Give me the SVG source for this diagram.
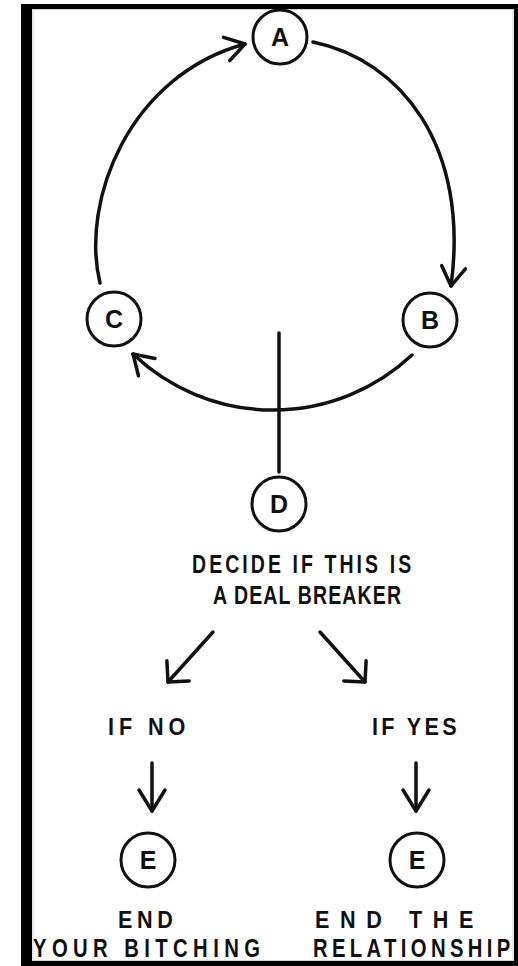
<svg xmlns="http://www.w3.org/2000/svg" width="518" height="966" viewBox="0 0 518 966">
<style>
.node circle{fill:#fff;stroke:#111;stroke-width:3}
.node text{font-family:"Liberation Sans",Arial,sans-serif;font-weight:bold;font-size:25px;fill:#111;text-anchor:middle}
.lbl{font-family:"Liberation Sans",Arial,sans-serif;font-weight:bold;fill:#111}
.conn path,.conn line{fill:none;stroke:#111;stroke-width:3.5;stroke-linecap:round}
</style>
<defs>
<marker id="ah" markerUnits="userSpaceOnUse" markerWidth="40" markerHeight="40" refX="0" refY="0" viewBox="-25 -20 30 40" orient="auto" overflow="visible">
<path d="M-19,-12 L0,0 L-19,12" fill="none" stroke="#111" stroke-width="3.5" stroke-linecap="round" stroke-linejoin="round"/>
</marker>
<marker id="ah2" markerUnits="userSpaceOnUse" markerWidth="40" markerHeight="40" refX="0" refY="0" viewBox="-25 -20 30 40" orient="auto" overflow="visible">
<path d="M-15,-15 L0,0 L-15,15" fill="none" stroke="#111" stroke-width="3.5" stroke-linecap="round" stroke-linejoin="round"/>
</marker>
<marker id="ah3" markerUnits="userSpaceOnUse" markerWidth="40" markerHeight="40" refX="0" refY="0" viewBox="-25 -20 30 40" orient="auto" overflow="visible">
<path d="M-21,-13 L0,0 L-21,13" fill="none" stroke="#111" stroke-width="3.5" stroke-linecap="round" stroke-linejoin="round"/>
</marker>
</defs>
<rect width="518" height="966" fill="#fff"/>
<rect x="33" y="9.5" width="480" height="951" fill="none" stroke="#cfcfcf" stroke-width="1"/>
<rect x="21" y="4" width="11" height="962" fill="#000"/>
<rect x="21" y="4" width="497" height="5" fill="#000"/>
<rect x="514" y="4" width="4" height="962" fill="#000"/>
<rect x="21" y="961" width="497" height="5" fill="#000"/>
<g class="conn">
<path d="M313,42 C400,60 470,145 451,286" marker-end="url(#ah)"/>
<path d="M412,355 A203,203 0 0 1 133,354" marker-end="url(#ah)"/>
<path d="M100,283 C80,200 130,75 245,44" marker-end="url(#ah)"/>
<line x1="279" y1="333" x2="279" y2="472"/>
<line x1="213" y1="632" x2="168" y2="682" marker-end="url(#ah2)"/>
<line x1="320" y1="632" x2="365" y2="682" marker-end="url(#ah2)"/>
<line x1="152" y1="763" x2="152" y2="811" marker-end="url(#ah3)"/>
<line x1="416" y1="763" x2="416" y2="811" marker-end="url(#ah3)"/>
</g>
<g id="nodeA" class="node"><circle cx="280" cy="37" r="27"/><text x="280" y="46">A</text></g>
<g id="nodeB" class="node"><circle cx="430" cy="320" r="27"/><text x="430" y="329">B</text></g>
<g id="nodeC" class="node"><circle cx="114" cy="319" r="27"/><text x="114" y="328">C</text></g>
<g id="nodeD" class="node"><circle cx="279" cy="504" r="27"/><text x="279" y="513">D</text></g>
<g id="nodeE1" class="node"><circle cx="148" cy="860" r="27"/><text x="148" y="869">E</text></g>
<g id="nodeE2" class="node"><circle cx="417" cy="860" r="27"/><text x="417" y="869">E</text></g>
<g id="labels">
<text class="lbl" transform="translate(192,573) scale(0.78,1)" font-size="25" textLength="281" lengthAdjust="spacing">DECIDE IF THIS IS</text>
<text class="lbl" transform="translate(213,604) scale(0.78,1)" font-size="25" textLength="241" lengthAdjust="spacing">A DEAL BREAKER</text>
<text class="lbl" transform="translate(108,735) scale(0.9,1)" font-size="24" textLength="86" lengthAdjust="spacing">IF NO</text>
<text class="lbl" transform="translate(372,735) scale(0.9,1)" font-size="24" textLength="94" lengthAdjust="spacing">IF YES</text>
<text class="lbl" transform="translate(118,928) scale(0.9,1)" font-size="24" textLength="61" lengthAdjust="spacing">END</text>
<text class="lbl" transform="translate(33,957) scale(0.78,1)" font-size="26" textLength="291" lengthAdjust="spacing">YOUR BITCHING</text>
<text class="lbl" transform="translate(315,928) scale(0.9,1)" font-size="24" textLength="176" lengthAdjust="spacing">END THE</text>
<text class="lbl" transform="translate(313,957) scale(0.78,1)" font-size="26" textLength="253" lengthAdjust="spacing">RELATIONSHIP</text>
</g>
</svg>
